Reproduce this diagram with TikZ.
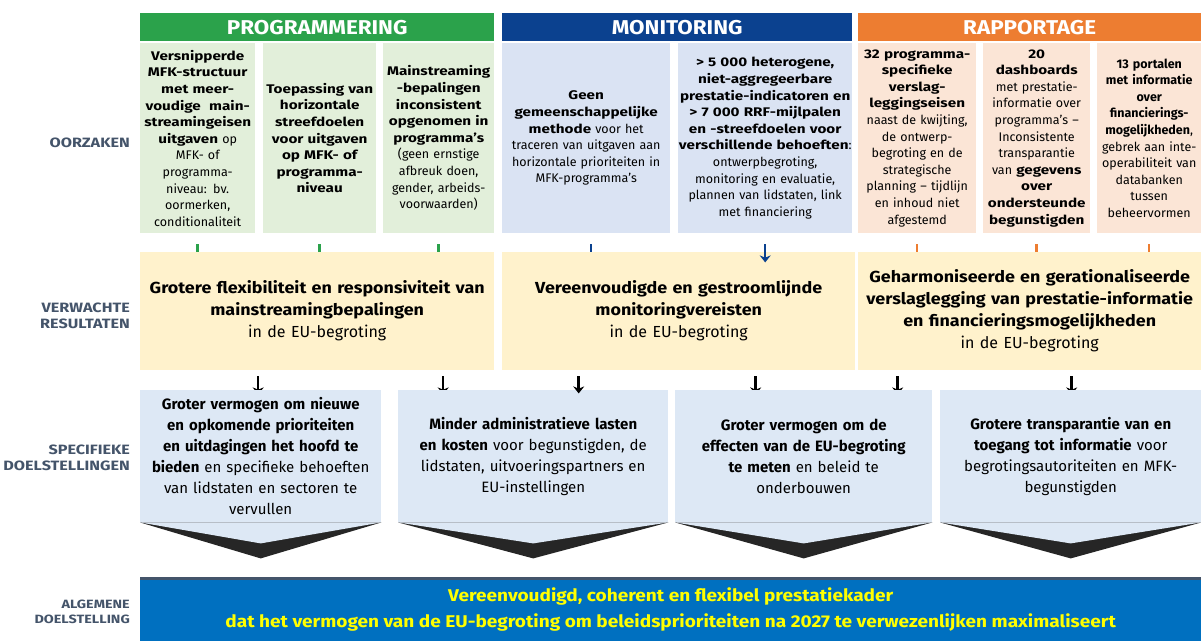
\documentclass[tikz,border=0pt]{standalone}
\usepackage{fontspec}
\setmainfont{Fira Sans}
\newfontfamily\widefam{Fira Sans}[BoldFeatures={FakeStretch=1.12}]
\newfontfamily\causefam{Fira Sans}[BoldFeatures={FakeStretch=1.22}]
\newfontfamily\lblfam{Fira Sans}[BoldFeatures={FakeStretch=1.2}]
\usetikzlibrary{arrows.meta,backgrounds}

\definecolor{grnhd}{HTML}{2BA24B}
\definecolor{grnlt}{HTML}{E2EFDA}
\definecolor{bluhd}{HTML}{0B418F}
\definecolor{blult}{HTML}{DAE3F3}
\definecolor{orghd}{HTML}{ED7D31}
\definecolor{orglt}{HTML}{FBE5D6}
\definecolor{resfill}{HTML}{FFF2CC}
\definecolor{specfill}{HTML}{DDE8F5}
\definecolor{goalfill}{HTML}{0070C0}
\definecolor{lblcol}{HTML}{44546A}
\definecolor{goaltxt}{HTML}{FFFF00}

\tikzset{
  hdr/.style={fill=#1, text=white, anchor=north west, minimum height=28pt,
    inner sep=0pt, font=\widefam\fontsize{20}{24}\selectfont\bfseries},
  cause/.style={fill=#1, anchor=north west, minimum height=190pt, inner xsep=0pt,
    inner ysep=2pt, align=center, font=\causefam\fontsize{12.5}{16.6}\selectfont},
  res/.style={fill=resfill, anchor=north west, minimum height=118pt, inner xsep=0pt,
    align=center, font=\widefam\fontsize{16}{22}\selectfont},
  spec/.style={fill=specfill, anchor=north west, minimum height=132pt, inner xsep=0pt,
    align=center, font=\fontsize{15}{21}\selectfont},
  lbl/.style={anchor=east, align=right, text=lblcol, inner sep=0pt,
    font=\lblfam\fontsize{13.5}{15.5}\selectfont\bfseries},
  stub/.style={->, line width=2.5pt, draw=#1},
}

\begin{document}
\begin{tikzpicture}[>={Stealth[length=7pt,width=11pt]},x=1pt,y=-1pt]
  \useasboundingbox (0,0) rectangle (1201,641);
  % koppen
  \node[hdr=grnhd, minimum width=354pt] (h1) at (140,13) {PROGRAMMERING};
  \node[hdr=bluhd, minimum width=350pt] (h2) at (502,13) {MONITORING};
  \node[hdr=orghd, minimum width=343pt] (h3) at (858,13) {RAPPORTAGE};

  % oorzaken
  \node[cause=grnlt, text width=115pt] (c1) at (140,43)
    {\textbf{Versnipperde\\MFK-structuur\\met meer-\\voudige\ \ main-\\streamingeisen\\uitgaven} op\\MFK- of\\programma-\\niveau: bv.\\oormerken,\\conditionaliteit};
  \node[cause=grnlt, text width=113pt] (c2) at (263,43)
    {\textbf{Toepassing van\\horizontale\\streefdoelen\\voor uitgaven\\op MFK- of\\programma-\\niveau}};
  \node[cause=grnlt, text width=111pt] (c3) at (383,43)
    {\textbf{Mainstreaming\\-bepalingen\\inconsistent\\opgenomen in\\programma’s}\\(geen ernstige\\afbreuk doen,\\gender, arbeids-\\voorwaarden)};
  \node[cause=blult, text width=168pt] (c4) at (502,43)
    {\textbf{Geen\\gemeenschappelijke\\methode} voor het\\traceren van uitgaven aan\\horizontale prioriteiten in\\MFK-programma’s};
  \node[cause=blult, text width=174pt] (c5) at (678,43)
    {\textbf{> 5 000 heterogene,\\niet-aggregeerbare\\prestatie-indicatoren en\\> 7 000 RRF-mijlpalen\\en -streefdoelen voor\\verschillende behoeften}:\\ontwerpbegroting,\\monitoring en evaluatie,\\plannen van lidstaten, link\\met financiering};
  \node[cause=orglt, text width=118pt] (c6) at (858,43)
    {\textbf{32 programma-\\specifieke\\verslag-\\leggingseisen}\\naast de kwijting,\\de ontwerp-\\begroting en de\\strategische\\planning – tijdlijn\\en inhoud niet\\afgestemd};
  \node[cause=orglt, text width=107pt] (c7) at (983,43)
    {\textbf{20\\dashboards}\\met prestatie-\\informatie over\\programma’s –\\Inconsistente\\transparantie\\van \textbf{gegevens\\over\\ondersteunde\\begunstigden}};
  \node[cause=orglt, text width=104pt, font=\fontsize{12.5}{16.6}\selectfont] (c8) at (1097,43)
    {\textbf{13 portalen\\met informatie\\over\\financierings-\\mogelijkheden},\\gebrek aan inte-\\operabiliteit van\\databanken\\tussen\\beheervormen};

  % verwachte resultaten
  \node[res, text width=354pt] (r1) at (140,252)
    {\textbf{Grotere flexibiliteit en responsiviteit van\\mainstreamingbepalingen}\\in de EU-begroting};
  \node[res, text width=353pt] (r2) at (502,252)
    {\textbf{Vereenvoudigde en gestroomlijnde\\monitoringvereisten}\\in de EU-begroting};
  \node[res, text width=343pt] (r3) at (858,252)
    {\textbf{Geharmoniseerde en gerationaliseerde\\verslaglegging van prestatie-informatie\\en financieringsmogelijkheden}\\in de EU-begroting};

  % specifieke doelstellingen
  \node[spec, text width=241pt] (s1) at (140,390)
    {\textbf{Groter vermogen om nieuwe\\en opkomende prioriteiten\\en uitdagingen het hoofd te\\bieden} en specifieke behoeften\\van lidstaten en sectoren te\\vervullen};
  \node[spec, text width=270pt] (s2) at (398,390)
    {\textbf{Minder administratieve lasten\\en kosten} voor begunstigden, de\\lidstaten, uitvoeringspartners en\\EU-instellingen};
  \node[spec, text width=257pt] (s3) at (675,390)
    {\textbf{Groter vermogen om de\\effecten van de EU-begroting\\te meten} en beleid te\\onderbouwen};
  \node[spec, text width=261pt] (s4) at (940,390)
    {\textbf{Grotere transparantie van en\\toegang tot informatie} voor\\begrotingsautoriteiten en MFK-\\begunstigden};

  % algemene doelstelling
  \node[fill=goalfill, anchor=north west, minimum width=1061pt, minimum height=63pt,
    align=center, text=goaltxt, font=\widefam\fontsize{17}{26}\selectfont\bfseries] (g) at (140,578)
    {Vereenvoudigd, coherent en flexibel prestatiekader\\dat het vermogen van de EU-begroting om beleidsprioriteiten na 2027 te verwezenlijken maximaliseert};
  \draw[lblcol, line width=3pt] (g.north west) -- (g.north east);

  % labels links
  \node[lbl] (l1) at (130,143) {OORZAKEN};
  \node[lbl] (l2) at (130,316) {VERWACHTE\\RESULTATEN};
  \node[lbl] (l3) at (130,458) {SPECIFIEKE\\DOELSTELLINGEN};
  \node[lbl, font=\lblfam\fontsize{12}{15}\selectfont\bfseries] (l4) at (130,612) {ALGEMENE\\DOELSTELLING};

  \begin{scope}[on background layer]
    \foreach \s in {s1,s2,s3,s4} {
      \fill[black!85] (\s.south west) -- ([yshift=-36pt]\s.south) -- (\s.south east) -- cycle;
      \fill[specfill] (\s.south west) -- ([yshift=-21pt]\s.south) -- (\s.south east) -- cycle;
    }
    % pijlen onder de vakken
    \foreach \c in {c1,c2,c3} \draw[stub=grnhd] ([yshift=-11pt]\c.south) -- ([yshift=-30pt]\c.south);
    \foreach \c in {c6,c7,c8} \draw[stub=orghd] ([yshift=-11pt]\c.south) -- ([yshift=-30pt]\c.south);
    \draw[stub=bluhd] ([xshift=5pt,yshift=-11pt]c4.south) -- ([xshift=5pt,yshift=-30pt]c4.south);
    \draw[stub=black] ([xshift=-59pt,yshift=-6pt]r1.south) -- ([xshift=-59pt,yshift=-24pt]r1.south);
    \draw[stub=black] ([xshift=126pt,yshift=-6pt]r1.south) -- ([xshift=126pt,yshift=-24pt]r1.south);
    \draw[stub=black] ([xshift=77pt,yshift=-6pt]r2.south) -- ([xshift=77pt,yshift=-24pt]r2.south);
    \draw[stub=black] ([xshift=-132pt,yshift=-6pt]r3.south) -- ([xshift=-132pt,yshift=-24pt]r3.south);
    \draw[stub=black] ([xshift=42pt,yshift=-6pt]r3.south) -- ([xshift=42pt,yshift=-24pt]r3.south);
  \end{scope}
  % zichtbare pijlen
  \draw[stub=bluhd] ([yshift=-11pt]c5.south) -- ([yshift=-29pt]c5.south);
  \draw[stub=black] ([xshift=-100pt,yshift=-6pt]r2.south) -- ([xshift=-100pt,yshift=-23pt]r2.south);
\end{tikzpicture}
\end{document}
